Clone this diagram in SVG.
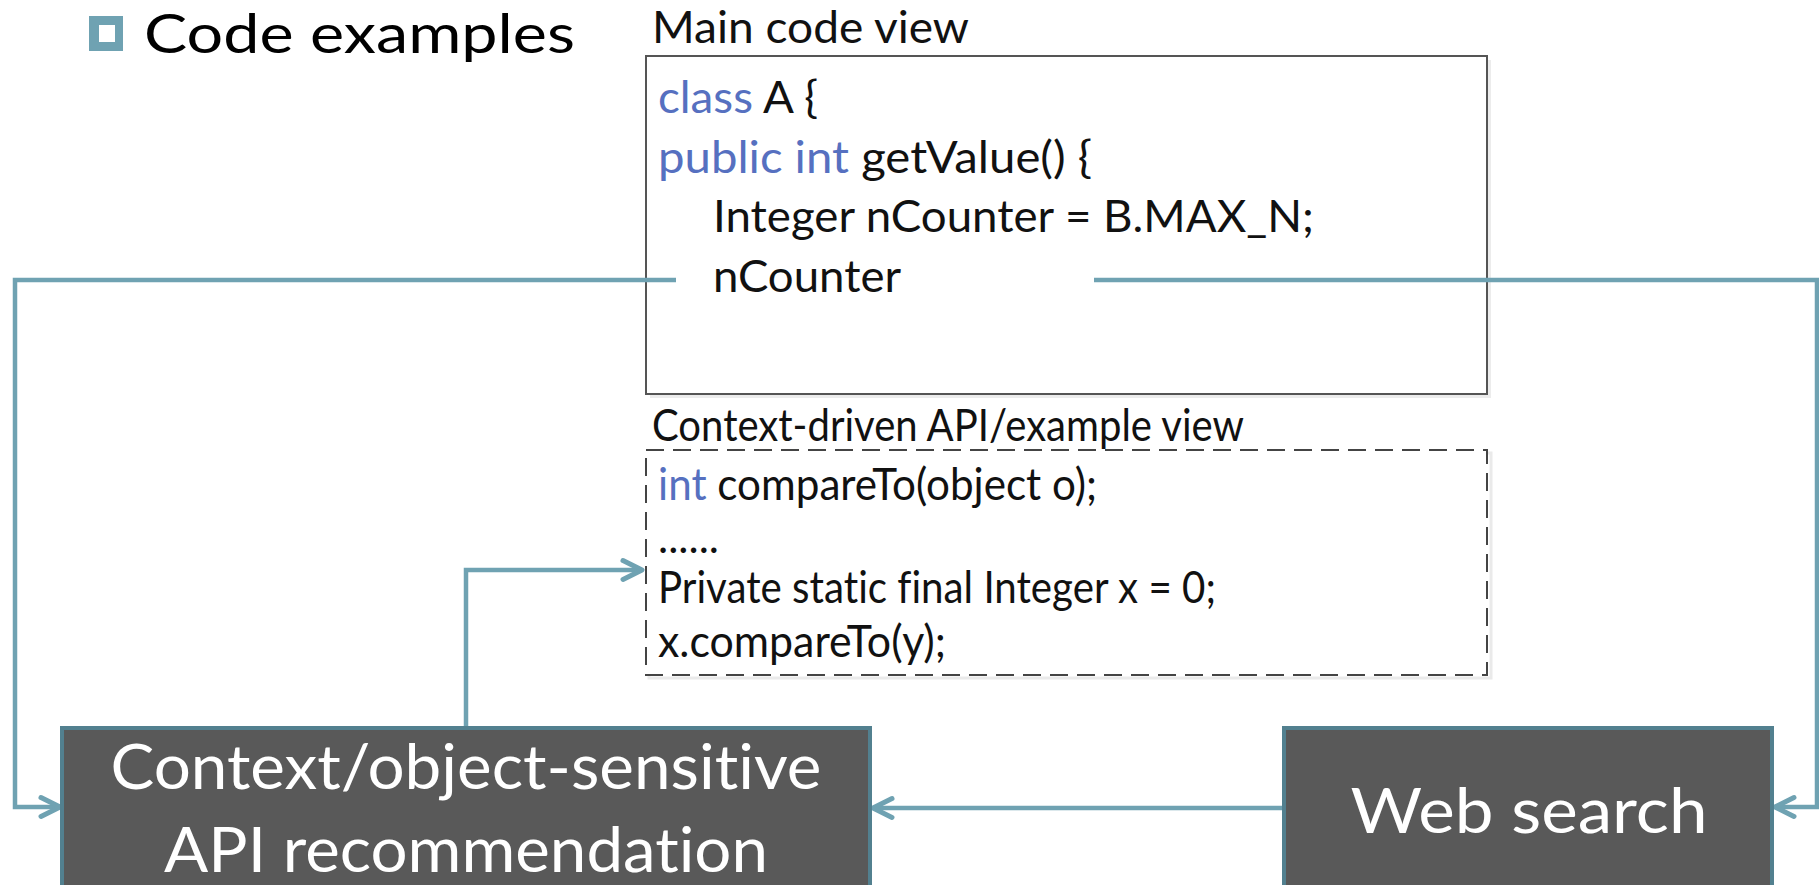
<svg xmlns="http://www.w3.org/2000/svg" width="1819" height="885" viewBox="0 0 1819 885">
  <defs>
    <style>
      text { font-variant-ligatures: none; }
      .code { font-family: Lato, "Open Sans", sans-serif; font-size: 44px; fill: #111; }
      .kw { fill: #5670C0; }
      .title { font-family: Lato, "Open Sans", sans-serif; font-size: 54px; fill: #000; }
      .boxtxt { font-family: Lato, "Open Sans", sans-serif; font-size: 62px; fill: #fff; text-anchor: middle; }
      .conn { fill: none; stroke: #6FA2B2; stroke-width: 4.5; stroke-linejoin: miter; }
      .node { fill: #595959; stroke: #52808F; stroke-width: 4; }
    </style>
    <marker id="arr" markerUnits="userSpaceOnUse" viewBox="-24 -14 28 28" refX="0" refY="0" markerWidth="28" markerHeight="28" orient="auto" overflow="visible">
      <path d="M -19 -9.5 L 0 0 L -19 9.5" fill="none" stroke="#6FA2B2" stroke-width="5" stroke-linecap="round" stroke-linejoin="round"/>
    </marker>
  </defs>
  <rect width="1819" height="885" fill="#fff"/>

  <g id="heading">
    <rect x="89" y="16" width="34" height="35" fill="#6FA2B2"/>
    <rect x="99" y="25" width="16" height="17" fill="#fff"/>
    <text class="title" x="144" y="53" textLength="431" lengthAdjust="spacingAndGlyphs">Code examples</text>
  </g>

  <g id="main-code-view">
    <text class="code" x="652" y="43" textLength="317" lengthAdjust="spacingAndGlyphs">Main code view</text>
    <rect x="650" y="60" width="841" height="338" fill="#ececec"/>
    <rect x="646" y="56" width="841" height="338" fill="#fff" stroke="#555" stroke-width="2"/>
    <text class="code" x="658" y="113" textLength="160" lengthAdjust="spacingAndGlyphs"><tspan class="kw">class</tspan> A {</text>
    <text class="code" x="658" y="173" textLength="434" lengthAdjust="spacingAndGlyphs"><tspan class="kw">public int</tspan> getValue() {</text>
    <text class="code" x="713" y="232" textLength="601" lengthAdjust="spacingAndGlyphs">Integer nCounter = B.MAX_N;</text>
    <text class="code" x="713" y="292" textLength="188" lengthAdjust="spacingAndGlyphs">nCounter</text>
  </g>

  <g id="example-view">
    <text class="code" x="652" y="441" textLength="592" lengthAdjust="spacingAndGlyphs">Context-driven API/example view</text>
    <rect x="649" y="453" width="842" height="225" fill="none" stroke="#eaeaea" stroke-width="3"/>
    <rect x="646" y="450" width="841" height="225" fill="#fff" stroke="#444" stroke-width="2" stroke-dasharray="18 9"/>
    <text class="code" x="658" y="500" textLength="439" lengthAdjust="spacingAndGlyphs"><tspan class="kw">int</tspan> compareTo(object o);</text>
    <text class="code" x="658" y="553" textLength="61" lengthAdjust="spacingAndGlyphs">......</text>
    <text class="code" x="658" y="603" textLength="558" lengthAdjust="spacingAndGlyphs">Private static final Integer x = 0;</text>
    <text class="code" x="658" y="657" textLength="288" lengthAdjust="spacingAndGlyphs">x.compareTo(y);</text>
  </g>

  <g id="connectors">
    <path class="conn" d="M676 280 H15 V807 H60" marker-end="url(#arr)"/>
    <path class="conn" d="M466 728 V570 H642" marker-end="url(#arr)"/>
    <path class="conn" d="M1284 808 H873" marker-end="url(#arr)"/>
    <path class="conn" d="M1094 280 H1817 V807 H1775" marker-end="url(#arr)"/>
  </g>

  <g id="api-recommendation">
    <rect class="node" x="62" y="728" width="808" height="180"/>
    <text class="boxtxt" x="466" y="789" textLength="711" lengthAdjust="spacingAndGlyphs">Context/object-sensitive</text>
    <text class="boxtxt" x="466" y="872" textLength="604" lengthAdjust="spacingAndGlyphs">API recommendation</text>
  </g>

  <g id="web-search">
    <rect class="node" x="1284" y="728" width="488" height="180"/>
    <text class="boxtxt" x="1529" y="833" textLength="357" lengthAdjust="spacingAndGlyphs">Web search</text>
  </g>
</svg>
